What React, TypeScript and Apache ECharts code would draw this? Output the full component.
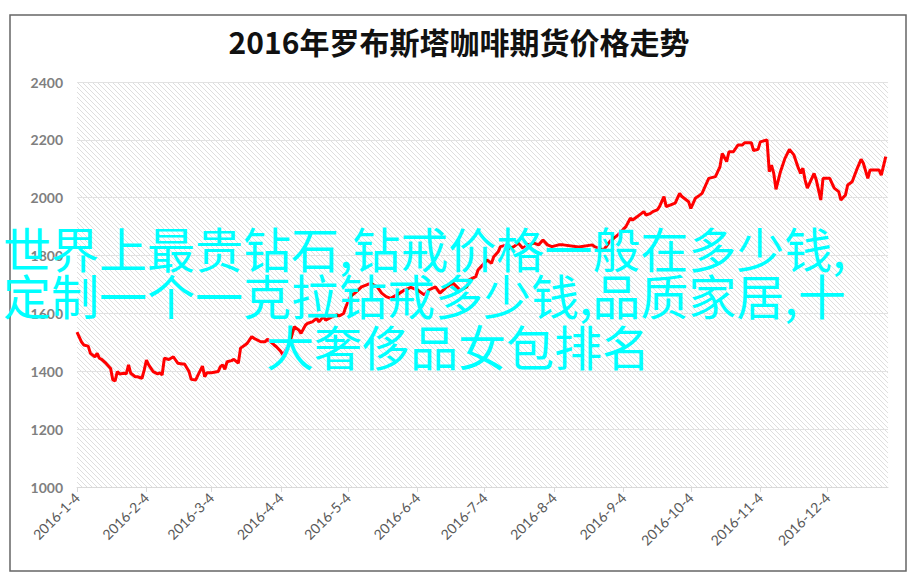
import React, { useEffect, useRef } from 'react';
import * as echarts from 'echarts';

const titleText = '2016年罗布斯塔咖啡期货价格走势';
const overlayLines = [
  '世界上最贵钻石,钻戒价格一般在多少钱,',
  '定制一个一克拉钻戒多少钱,品质家居,十',
  '大奢侈品女包排名',
];
const tickLabels = [
  '2016-1-4', '2016-2-4', '2016-3-4', '2016-4-4', '2016-5-4', '2016-6-4',
  '2016-7-4', '2016-8-4', '2016-9-4', '2016-10-4', '2016-11-4', '2016-12-4',
];
const xStart = '2016-1-4';
const xEnd = '2016-12-31';
const yMin = 1000;
const yMax = 2400;
const yStep = 200;

const dates = [
  '2016-1-4', '2016-1-6', '2016-1-7', '2016-1-9', '2016-1-10', '2016-1-12', '2016-1-13', '2016-1-14', '2016-1-15', '2016-1-17',
  '2016-1-19', '2016-1-20', '2016-1-21', '2016-1-22', '2016-1-23', '2016-1-25', '2016-1-26', '2016-1-27', '2016-1-28', '2016-1-30',
  '2016-1-31', '2016-2-2', '2016-2-3', '2016-2-4', '2016-2-5', '2016-2-7', '2016-2-9', '2016-2-10', '2016-2-11', '2016-2-12',
  '2016-2-14', '2016-2-16', '2016-2-17', '2016-2-18', '2016-2-20', '2016-2-21', '2016-2-23', '2016-2-24', '2016-2-26', '2016-2-27',
  '2016-2-29', '2016-3-1', '2016-3-2', '2016-3-4', '2016-3-7', '2016-3-8', '2016-3-9', '2016-3-10', '2016-3-11', '2016-3-13',
  '2016-3-14', '2016-3-16', '2016-3-17', '2016-3-19', '2016-3-20', '2016-3-22', '2016-3-23', '2016-3-26', '2016-3-28', '2016-3-29',
  '2016-4-1', '2016-4-2', '2016-4-4', '2016-4-5', '2016-4-8', '2016-4-10', '2016-4-12', '2016-4-13', '2016-4-15', '2016-4-16',
  '2016-4-18', '2016-4-20', '2016-4-21', '2016-4-23', '2016-4-24', '2016-4-27', '2016-4-29', '2016-4-30', '2016-5-2', '2016-5-3',
  '2016-5-5', '2016-5-7', '2016-5-10', '2016-5-12', '2016-5-14', '2016-5-17', '2016-5-19', '2016-5-21', '2016-5-23', '2016-5-26',
  '2016-5-29', '2016-6-1', '2016-6-4', '2016-6-7', '2016-6-9', '2016-6-12', '2016-6-14', '2016-6-17', '2016-6-20', '2016-6-23',
  '2016-6-26', '2016-6-27', '2016-6-30', '2016-7-1', '2016-7-3', '2016-7-5', '2016-7-7', '2016-7-8', '2016-7-10', '2016-7-11',
  '2016-7-14', '2016-7-15', '2016-7-17', '2016-7-19', '2016-7-21', '2016-7-23', '2016-7-26', '2016-7-28', '2016-7-30', '2016-8-1',
  '2016-8-3', '2016-8-6', '2016-8-8', '2016-8-15', '2016-8-21', '2016-8-22', '2016-8-26', '2016-8-29', '2016-9-2', '2016-9-5',
  '2016-9-7', '2016-9-8', '2016-9-10', '2016-9-11', '2016-9-13', '2016-9-14', '2016-9-16', '2016-9-17', '2016-9-19', '2016-9-20',
  '2016-9-22', '2016-9-23', '2016-9-25', '2016-9-27', '2016-9-29', '2016-9-30', '2016-10-3', '2016-10-4', '2016-10-6', '2016-10-8',
  '2016-10-9', '2016-10-11', '2016-10-12', '2016-10-15', '2016-10-16', '2016-10-17', '2016-10-18', '2016-10-20', '2016-10-21', '2016-10-23',
  '2016-10-25', '2016-10-27', '2016-10-28', '2016-10-31', '2016-11-1', '2016-11-3', '2016-11-4', '2016-11-7', '2016-11-8', '2016-11-9',
  '2016-11-10', '2016-11-11', '2016-11-13', '2016-11-15', '2016-11-17', '2016-11-19', '2016-11-21', '2016-11-22', '2016-11-23', '2016-11-24',
  '2016-11-25', '2016-11-28', '2016-11-29', '2016-12-1', '2016-12-2', '2016-12-5', '2016-12-7', '2016-12-9', '2016-12-10', '2016-12-12',
  '2016-12-13', '2016-12-15', '2016-12-17', '2016-12-19', '2016-12-20', '2016-12-22', '2016-12-23', '2016-12-27', '2016-12-28', '2016-12-30',
];

const prices = [
  1535, 1502, 1491, 1487, 1462, 1450, 1462, 1445, 1441, 1427,
  1410, 1370, 1367, 1399, 1391, 1393, 1391, 1422, 1393, 1381,
  1381, 1376, 1404, 1439, 1422, 1399, 1391, 1395, 1387, 1445,
  1441, 1450, 1439, 1428, 1425, 1425, 1399, 1372, 1370, 1387,
  1418, 1381, 1395, 1395, 1399, 1416, 1422, 1407, 1433, 1437,
  1441, 1428, 1480, 1491, 1497, 1520, 1514, 1502, 1502, 1511,
  1491, 1485, 1468, 1456, 1500, 1554, 1543, 1531, 1560, 1566,
  1571, 1583, 1571, 1589, 1577, 1589, 1595, 1591, 1600, 1623,
  1658, 1670, 1692, 1698, 1704, 1692, 1670, 1658, 1652, 1665,
  1680, 1690, 1681, 1664, 1681, 1692, 1670, 1692, 1704, 1681,
  1692, 1716, 1727, 1750, 1767, 1785, 1773, 1796, 1813, 1831,
  1837, 1825, 1831, 1843, 1825, 1837, 1843, 1837, 1854, 1837,
  1831, 1837, 1837, 1830, 1837, 1831, 1819, 1850, 1875, 1900,
  1929, 1923, 1934, 1940, 1952, 1940, 1946, 1952, 1958, 1969,
  2004, 1969, 1975, 1981, 2015, 2004, 1986, 1963, 1998, 2009,
  2015, 2050, 2067, 2073, 2090, 2107, 2153, 2125, 2159, 2159,
  2182, 2182, 2190, 2190, 2163, 2167, 2193, 2200, 2090, 2113,
  2084, 2029, 2090, 2136, 2167, 2148, 2102, 2084, 2102, 2061,
  2033, 2084, 2061, 1992, 2067, 2067, 2033, 2021, 1992, 2009,
  2044, 2055, 2096, 2133, 2119, 2067, 2096, 2096, 2078, 2142,
];

function toTime(s: string): number {
  const [y, m, d] = s.split('-').map(Number);
  return new Date(y, m - 1, d).getTime();
}

function fmtDate(v: number): string {
  const d = new Date(v);
  return `${d.getFullYear()}-${d.getMonth() + 1}-${d.getDate()}`;
}

function makeHatch(): HTMLCanvasElement {
  const c = document.createElement('canvas');
  c.width = 5;
  c.height = 5;
  const ctx = c.getContext('2d')!;
  ctx.fillStyle = '#ffffff';
  ctx.fillRect(0, 0, 5, 5);
  ctx.fillStyle = '#dedede';
  for (let i = 0; i < 5; i++) ctx.fillRect(i, i, 1, 1);
  return c;
}

export default function App() {
  const ref = useRef<HTMLDivElement>(null);
  useEffect(() => {
    document.body.style.margin = '0';
    const chart = echarts.init(ref.current!, null, { renderer: 'svg' });
    const labelFont = 'Lato, "Liberation Sans", sans-serif';
    const cjk = '"Noto Sans CJK SC", sans-serif';
    const tickTimes = tickLabels.map(toTime);
    const seriesData = dates.map((d, i) => [toTime(d), prices[i]]);
    chart.setOption({
      animation: false,
      backgroundColor: '#ffffff',
      title: {
        text: titleText,
        left: 'center',
        top: 21,
        textStyle: { fontSize: 30, fontWeight: 'bold', color: '#111', fontFamily: cjk },
      },
      grid: {
        left: 77,
        right: 30,
        top: 82,
        bottom: 96,
        show: true,
        borderWidth: 0,
        backgroundColor: { image: makeHatch(), repeat: 'repeat' },
      },
      xAxis: {
        type: 'value',
        min: toTime(xStart),
        max: toTime(xEnd),
        axisLine: { show: true, onZero: false, lineStyle: { color: '#d9d9d9', width: 1 } },
        axisTick: { show: true, customValues: tickTimes, length: 5, lineStyle: { color: '#d9d9d9' } },
        axisLabel: {
          customValues: tickTimes,
          rotate: 45,
          margin: 8,
          fontSize: 14,
          color: '#595959',
          fontFamily: labelFont,
          formatter: (v: number) => fmtDate(v),
        },
        splitLine: { show: false },
      },
      yAxis: {
        type: 'value',
        min: yMin,
        max: yMax,
        interval: yStep,
        axisLine: { show: false },
        axisTick: { show: false },
        axisLabel: {
          fontSize: 14,
          fontWeight: 'bold',
          color: '#7f7f7f',
          margin: 14,
          fontFamily: labelFont,
          formatter: (v: number) => String(v),
        },
        splitLine: { show: true, lineStyle: { color: '#e2e2e2', width: 1 } },
      },
      series: [
        {
          type: 'line',
          data: seriesData,
          showSymbol: false,
          symbol: 'none',
          lineStyle: { color: '#ff0000', width: 3 },
          itemStyle: { color: '#ff0000' },
        },
      ],
      graphic: [
        {
          type: 'rect',
          z: 50,
          shape: { x: 10, y: 15, width: 896, height: 556 },
          style: { fill: 'none', stroke: '#666666', lineWidth: 1.5 },
        },
        {
          type: 'text',
          z: 100,
          style: { text: overlayLines[0], x: 3, y: 247, fontSize: 48, fontFamily: cjk, fill: '#00ffff', textVerticalAlign: 'middle' },
        },
        {
          type: 'text',
          z: 100,
          style: { text: overlayLines[1], x: 3, y: 294, fontSize: 48, fontFamily: cjk, fill: '#00ffff', textVerticalAlign: 'middle' },
        },
        {
          type: 'text',
          z: 100,
          style: { text: overlayLines[2], x: 266, y: 345, fontSize: 48, fontFamily: cjk, fill: '#00ffff', textVerticalAlign: 'middle' },
        },
      ],
    });
    return () => chart.dispose();
  }, []);
  return (
    <div
      ref={ref}
      style={{ position: 'fixed', left: 0, top: 0, width: 918, height: 583, background: '#fff' }}
    />
  );
}
